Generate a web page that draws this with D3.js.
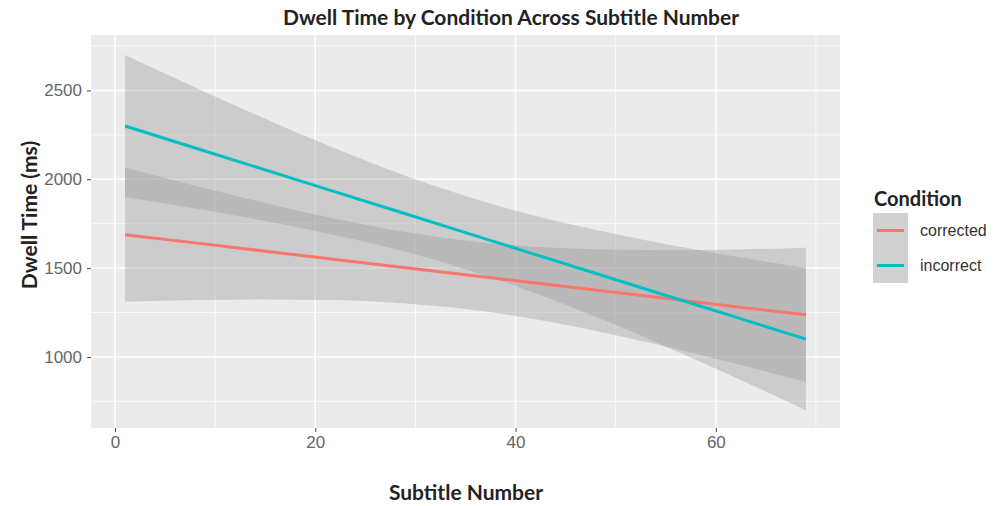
<!DOCTYPE html>
<html>
<head>
<meta charset="utf-8">
<script src="https://cdn.jsdelivr.net/npm/d3@7"></script>
<style>
  body { margin: 0; background: #fff; }
  text { font-family: "Liberation Sans", Arial, sans-serif; }
  .ttl { font-family: Lato, "Open Sans", sans-serif; font-weight: bold; fill: #222; }
</style>
</head>
<body>
<div id="chart"></div>
<script>
// Subtitle number positions where the bands were read
const subtitleX = [1, 8, 15, 22, 29, 35, 42, 49, 56, 62, 69];

// corrected: fitted line and confidence band
const correctedFit   = [1688, 1642, 1595, 1549, 1502, 1463, 1416, 1370, 1323, 1283, 1237];
const correctedUpper = [2066, 1964, 1867, 1778, 1703, 1656, 1620, 1605, 1601, 1605, 1615];
const correctedLower = [1310, 1320, 1323, 1320, 1301, 1270, 1212, 1135, 1045, 961, 859];

// incorrect: fitted line and confidence band
const incorrectFit   = [2300, 2176, 2053, 1929, 1806, 1700, 1576, 1453, 1329, 1224, 1100];
const incorrectUpper = [2700, 2517, 2341, 2173, 2020, 1906, 1793, 1703, 1624, 1565, 1500];
const incorrectLower = [1900, 1835, 1765, 1685, 1592, 1494, 1359, 1203, 1034, 883, 700];

const conditions = ["corrected", "incorrect"];
const colors = ["#F8766D", "#00BFC4"];

const xTicks = [0, 20, 40, 60];
const xMinor = [10, 30, 50, 70];
const yTicks = [1000, 1500, 2000, 2500];
const yMinor = [750, 1250, 1750, 2250, 2750];

const W = 1004, H = 506;
const panel = { left: 91, right: 840, top: 35, bottom: 428 };

const svg = d3.select("#chart").append("svg")
    .attr("width", W).attr("height", H);

const x = d3.scaleLinear().domain([-2.4, 72.4]).range([panel.left, panel.right]);
const y = d3.scaleLinear().domain([600, 2812]).range([panel.bottom, panel.top]);

// panel background
svg.append("rect")
    .attr("x", panel.left).attr("y", panel.top)
    .attr("width", panel.right - panel.left).attr("height", panel.bottom - panel.top)
    .attr("fill", "#EBEBEB");

// grid lines
const grid = svg.append("g");
grid.selectAll(".ymin").data(yMinor).enter().append("line")
    .attr("x1", panel.left).attr("x2", panel.right)
    .attr("y1", d => y(d)).attr("y2", d => y(d))
    .attr("stroke", "#fff").attr("stroke-width", 0.7);
grid.selectAll(".xmin").data(xMinor).enter().append("line")
    .attr("y1", panel.top).attr("y2", panel.bottom)
    .attr("x1", d => x(d)).attr("x2", d => x(d))
    .attr("stroke", "#fff").attr("stroke-width", 0.7);
grid.selectAll(".ymaj").data(yTicks).enter().append("line")
    .attr("x1", panel.left).attr("x2", panel.right)
    .attr("y1", d => y(d)).attr("y2", d => y(d))
    .attr("stroke", "#fff").attr("stroke-width", 1.5);
grid.selectAll(".xmaj").data(xTicks).enter().append("line")
    .attr("y1", panel.top).attr("y2", panel.bottom)
    .attr("x1", d => x(d)).attr("x2", d => x(d))
    .attr("stroke", "#fff").attr("stroke-width", 1.5);

// build series
const series = [
    { name: "corrected", fit: correctedFit, upper: correctedUpper, lower: correctedLower },
    { name: "incorrect", fit: incorrectFit, upper: incorrectUpper, lower: incorrectLower }
].map(s => ({
    name: s.name,
    points: subtitleX.map((sx, i) => ({ x: sx, fit: s.fit[i], hi: s.upper[i], lo: s.lower[i] }))
}));

const area = d3.area()
    .x(d => x(d.x)).y0(d => y(d.lo)).y1(d => y(d.hi))
    .curve(d3.curveMonotoneX);
const line = d3.line()
    .x(d => x(d.x)).y(d => y(d.fit));

series.forEach(s => {
    svg.append("path")
        .datum(s.points)
        .attr("d", area)
        .attr("fill", "#999999")
        .attr("fill-opacity", 0.37);
});
series.forEach((s, i) => {
    svg.append("path")
        .datum(s.points)
        .attr("d", line)
        .attr("fill", "none")
        .attr("stroke", colors[i])
        .attr("stroke-width", 3);
});

// axes
const xAxis = svg.append("g")
    .attr("transform", `translate(0,${panel.bottom})`)
    .call(d3.axisBottom(x).tickValues(xTicks).tickFormat(d3.format("d")).tickSize(4).tickPadding(4));
const yAxis = svg.append("g")
    .attr("transform", `translate(${panel.left},0)`)
    .call(d3.axisLeft(y).tickValues(yTicks).tickFormat(d3.format("d")).tickSize(4).tickPadding(5));
[xAxis, yAxis].forEach(a => {
    a.select(".domain").remove();
    a.selectAll("line").attr("stroke", "#444");
    a.selectAll("text").attr("fill", "#666").style("font-size", "17px");
});

// titles
svg.append("text").attr("class", "ttl")
    .attr("x", 511).attr("y", 25)
    .attr("text-anchor", "middle").style("font-size", "21px")
    .text("Dwell Time by Condition Across Subtitle Number");
svg.append("text").attr("class", "ttl")
    .attr("x", 466).attr("y", 500)
    .attr("text-anchor", "middle").style("font-size", "21px")
    .text("Subtitle Number");
svg.append("text").attr("class", "ttl")
    .attr("transform", `translate(37,215) rotate(-90)`)
    .attr("text-anchor", "middle").style("font-size", "21px")
    .text("Dwell Time (ms)");

// legend
const legend = svg.append("g").attr("transform", "translate(873,0)");
legend.append("text").attr("class", "ttl")
    .attr("x", 1).attr("y", 206).style("font-size", "20px")
    .text("Condition");
conditions.forEach((c, i) => {
    const ky = 213 + i * 35;
    legend.append("rect")
        .attr("x", 0).attr("y", ky).attr("width", 35).attr("height", 35)
        .attr("fill", "#F2F2F2");
    legend.append("rect")
        .attr("x", 0).attr("y", ky).attr("width", 35).attr("height", 35)
        .attr("fill", "#999999").attr("fill-opacity", 0.37);
    legend.append("line")
        .attr("x1", 4).attr("x2", 31).attr("y1", ky + 17.5).attr("y2", ky + 17.5)
        .attr("stroke", colors[i]).attr("stroke-width", 3);
    legend.append("text")
        .attr("x", 47).attr("y", ky + 23)
        .attr("fill", "#333").style("font-size", "16px")
        .text(c);
});
</script>
</body>
</html>
